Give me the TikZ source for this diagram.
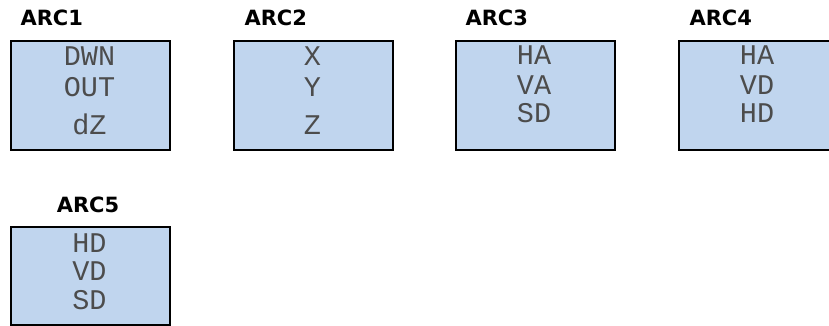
\documentclass[tikz,border=0pt]{standalone}
\usepackage{fontspec}
\usetikzlibrary{positioning, calc}
\newfontfamily\titlefont{DejaVu Sans}
\newfontfamily\lcdfont{Liberation Mono}
\definecolor{lcdblue}{HTML}{C0D5EE}

\begin{document}
\begin{tikzpicture}[x=1pt, y=-1pt,
  panel/.style={draw=black, line width=2pt, fill=lcdblue,
                minimum width=159pt, minimum height=#1, inner sep=0pt},
  panel/.default=109pt,
  title/.style={anchor=base west, font=\titlefont\bfseries\fontsize{21}{24}\selectfont},
  readout/.style={anchor=base, font=\lcdfont\fontsize{28.5}{32}\selectfont, text=black!70}
]
  \useasboundingbox (0,0) rectangle (829,326);

  % ── ARC1 ────────────────────────────────────────────────────────────────
  \node[panel] (arc1) at (90.5,95.4) {};
  \node[title] (arc1-t) at (17,26) {ARC1};
  \node[readout] (arc1-a) at (89.5,66)  {DWN};
  \node[readout] (arc1-b) at (89.5,97)  {OUT};
  \node[readout] (arc1-c) at (89.5,134) {dZ};

  % ── ARC2 ────────────────────────────────────────────────────────────────
  \node[panel] (arc2) at (313.3,95.4) {};
  \node[title] (arc2-t) at (241,26) {ARC2};
  \node[readout] (arc2-a) at (312.3,66)  {X};
  \node[readout] (arc2-b) at (312.3,97)  {Y};
  \node[readout] (arc2-c) at (312.3,134) {Z};

  % ── ARC3 ────────────────────────────────────────────────────────────────
  \node[panel] (arc3) at (535,95.4) {};
  \node[title] (arc3-t) at (462,26) {ARC3};
  \node[readout] (arc3-a) at (534,65)  {HA};
  \node[readout] (arc3-b) at (534,95)  {VA};
  \node[readout] (arc3-c) at (534,123) {SD};

  % ── ARC4 (runs off the right edge) ──────────────────────────────────────
  \node[panel] (arc4) at (758,95.4) {};
  \node[title] (arc4-t) at (686,26) {ARC4};
  \node[readout] (arc4-a) at (757,65)  {HA};
  \node[readout] (arc4-b) at (757,95)  {VD};
  \node[readout] (arc4-c) at (757,123) {HD};

  % ── ARC5 ────────────────────────────────────────────────────────────────
  \node[panel=98pt] (arc5) at (90.5,276) {};
  \node[title, anchor=base] (arc5-t) at (88,212) {ARC5};
  \node[readout] (arc5-a) at (89.5,252) {HD};
  \node[readout] (arc5-b) at (89.5,280) {VD};
  \node[readout] (arc5-c) at (89.5,309) {SD};
\end{tikzpicture}
\end{document}
